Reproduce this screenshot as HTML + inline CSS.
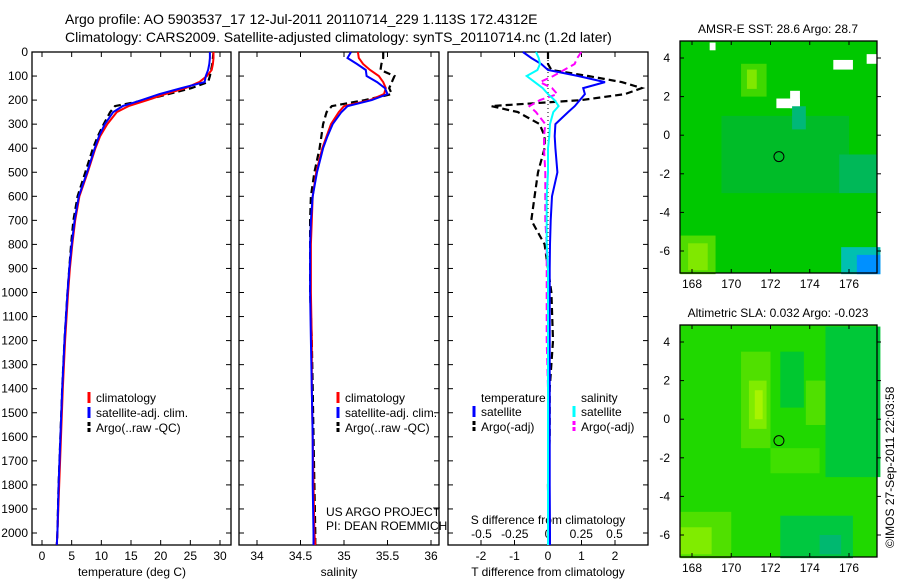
<!DOCTYPE html>
<html><head><meta charset="utf-8">
<style>
html,body{margin:0;padding:0;background:#fff;}
svg{display:block;font-family:"Liberation Sans",sans-serif;}
text{font-size:12px;fill:#000;}
</style></head>
<body>
<svg id="fig" width="900" height="580" viewBox="0 0 900 580" xmlns="http://www.w3.org/2000/svg">
<text x="65" y="24" style="font-size:14px">Argo profile: AO 5903537_17 12-Jul-2011 20110714_229 1.113S 172.4312E</text>
<text x="65" y="42" style="font-size:14px">Climatology: CARS2009. Satellite-adjusted climatology: synTS_20110714.nc (1.2d later)</text>
<g id="g"></g>
<text transform="translate(894,548) rotate(-90)" style="font-size:12px">©IMOS 27-Sep-2011 22:03:58</text>
</svg>
<script>
// ---- data ----
const depths = [0,25,50,75,100,125,150,175,200,225,250,300,350,400,500,600,700,800,900,1000,1200,1400,1600,1800,2000,2050];
const tempClim = [28.9,28.9,28.8,28.6,27.8,26.5,24.2,20.8,17.8,14.6,12.6,11.0,9.8,9.0,7.7,6.3,5.6,5.1,4.7,4.4,3.9,3.5,3.2,2.9,2.6,2.5];
const tempSat  = [28.3,28.3,28.2,28.0,27.6,27.4,23.5,19.8,16.8,13.6,12.0,10.6,9.6,8.9,7.6,6.2,5.5,5.0,4.6,4.3,3.8,3.4,3.1,2.8,2.6,2.5];
const tempArgo = [28.9,28.8,28.7,28.5,28.3,28.0,25.2,21.3,17.4,12.3,11.5,10.4,9.4,8.6,7.3,6.0,5.3,4.9,4.6,4.3,3.8,3.4,3.1,2.8,2.6,2.5];
const salClim = [35.16,35.17,35.22,35.30,35.40,35.45,35.48,35.46,35.30,35.00,34.94,34.85,34.80,34.75,34.68,34.64,34.63,34.62,34.62,34.62,34.63,34.63,34.64,34.65,34.66,34.67];
const salSat  = [35.08,35.04,35.15,35.25,35.26,35.38,35.47,35.50,35.32,35.04,34.97,34.87,34.81,34.76,34.69,34.64,34.62,34.61,34.61,34.61,34.62,34.63,34.64,34.64,34.65,34.65];
const salArgo = [35.45,35.45,35.43,35.42,35.58,35.55,35.52,35.55,35.24,34.86,34.80,34.76,34.74,34.72,34.66,34.62,34.61,34.61,34.61,34.61,34.63,34.64,34.65,34.66,34.67,34.67];
const dTsat  = [-0.75,-0.5,-0.2,0.0,0.9,1.7,1.05,1.1,0.95,0.8,0.6,0.22,0.2,0.22,0.28,0.12,0.08,0.06,0.05,0.05,0.05,0.05,0.05,0.05,0.06,0.06];
const dTargo = [0.0,0.0,0.0,0.1,1.2,2.2,2.8,2.3,1.0,-1.7,-0.9,-0.25,-0.1,-0.1,-0.3,-0.4,-0.5,-0.1,0.0,0.1,0.15,0.05,0.05,0.0,0.02,0.0];
const dSsat  = [-0.09,-0.07,-0.06,-0.08,-0.16,-0.1,-0.04,0.0,0.05,0.08,0.04,0.015,0.01,0.0,0.0,-0.01,-0.01,-0.01,0.0,0.0,0.0,0.0,0.0,0.0,0.0,0.0];
const dSargo = [0.25,0.22,0.2,0.12,0.04,-0.06,0.03,0.07,-0.06,-0.14,-0.09,-0.02,-0.03,-0.03,-0.02,-0.02,-0.02,-0.01,-0.01,-0.01,-0.01,0.0,0.0,0.0,0.0,0.0];
const depthTicks = [0,100,200,300,400,500,600,700,800,900,1000,1100,1200,1300,1400,1500,1600,1700,1800,1900,2000];
const tempTicks = [0,5,10,15,20,25,30];
const salTicks = [34,34.5,35,35.5,36];
const dTTicks = [-2,-1,0,1,2];
const dSTicks = [-0.5,-0.25,0,0.25,0.5];
const latTicks = [4,2,0,-2,-4,-6];
const lonTicks = [168,170,172,174,176];

// ---- helpers ----
const NS="http://www.w3.org/2000/svg";
const G=document.getElementById('g');
function mk(tag,attrs,parent){const e=document.createElementNS(NS,tag);for(const k in attrs)e.setAttribute(k,attrs[k]);(parent||G).appendChild(e);return e;}
const TOP=52,BOT=545;
const yD=d=>TOP+d*0.2405;
function lin(d0,d1,r0,r1){return v=>r0+(v-d0)*(r1-r0)/(d1-d0);}

function panel(x0,x1,name){
  const r=mk('rect',{x:x0,y:TOP,width:x1-x0,height:BOT-TOP,fill:'none',stroke:'#000','stroke-width':1.3});
  
  
  depthTicks.forEach(d=>{
    const y=yD(d);
    mk('line',{x1:x0,y1:y,x2:x0+5,y2:y,stroke:'#000'});
    mk('line',{x1:x1,y1:y,x2:x1-5,y2:y,stroke:'#000'});
  });
}
function xticks(x0,x1,ticks,sx,labY,name){
  ticks.forEach(t=>{
    const x=sx(t);
    mk('line',{x1:x,y1:BOT,x2:x,y2:BOT-5,stroke:'#000'});
    mk('line',{x1:x,y1:TOP,x2:x,y2:TOP+5,stroke:'#000'});
    const tx=mk('text',{x:x,y:labY,'text-anchor':'middle'});
    tx.textContent=String(t);
    
    
  });
}
function line(vals,sx,color,dash,name,w){
  const pts=vals.map((v,i)=>sx(v).toFixed(1)+','+yD(depths[i]).toFixed(1)).join(' ');
  const p=mk('polyline',{points:pts,fill:'none',stroke:color,'stroke-width':w||2,'stroke-dasharray':dash||'none'});
  
  
}
function legend(x,y,items,prefix){
  items.forEach((it,i)=>{
    mk('line',{x1:x,y1:y+i*15-10,x2:x,y2:y+i*15+1,stroke:it[1],'stroke-width':3,'stroke-dasharray':it[2]||'none'});
    const t=mk('text',{x:x+7,y:y+i*15});
    t.textContent=it[0];
    
    
  });
}
function label(x,y,s,name,anchor){const t=mk('text',{x:x,y:y,'text-anchor':anchor||'start'});t.textContent=s;}

// depth labels
depthTicks.forEach(d=>{const t=mk('text',{x:28,y:yD(d)+4,'text-anchor':'end'});t.textContent=d;});

// panel 1 temperature
const sT=lin(0,30,42,220);
panel(32,231,'temperature-panel');
xticks(32,231,tempTicks,sT,560,'temperature-tick-label');
label(132,576,'temperature (deg C)','temperature-axis-title','middle');
line(tempArgo,sT,'#000','7,4','temp-argo-line',2.2);
line(tempClim,sT,'#f00',null,'temp-climatology-line');
line(tempSat,sT,'#00f',null,'temp-satellite-line');
legend(89,402,[['climatology','#f00'],['satellite-adj. clim.','#00f'],['Argo(..raw -QC)','#000','4,2']],'temp');

// panel 2 salinity
const sS=lin(34,36,257,431);
panel(239,439,'salinity-panel');
xticks(239,439,salTicks,sS,560,'salinity-tick-label');
label(339,576,'salinity','salinity-axis-title','middle');
line(salArgo,sS,'#000','7,4','sal-argo-line',2.2);
line(salClim,sS,'#f00',null,'sal-climatology-line');
line(salSat,sS,'#00f',null,'sal-satellite-line');
legend(338,402,[['climatology','#f00'],['satellite-adj. clim.','#00f'],['Argo(..raw -QC)','#000','4,2']],'sal');
label(326,516,'US ARGO PROJECT','project-label');
label(326,530,'PI: DEAN ROEMMICH','pi-label');

// panel 3 differences
const sDT=lin(0,1,548,581.5);
const sDS=lin(0,1,548,681);
panel(448,648,'difference-panel');
xticks(448,648,dTTicks,sDT,560,'t-diff-tick-label');
dSTicks.forEach(t=>{const tx=mk('text',{x:sDS(t),y:538,'text-anchor':'middle'});tx.textContent=String(t);});
label(548,524,'S difference from climatology','s-diff-axis-title','middle');
label(548,576,'T difference from climatology','t-diff-axis-title','middle');
mk('line',{x1:548,y1:TOP,x2:548,y2:BOT,stroke:'#000','stroke-dasharray':'1,3'});
line(dTargo,sDT,'#000','7,4','t-diff-argo-line',2.2);
line(dSargo,sDS,'#f0f','7,4','s-diff-argo-line');
line(dTsat,sDT,'#00f',null,'t-diff-satellite-line');
line(dSsat,sDS,'#0ff',null,'s-diff-satellite-line');
label(481,402,'temperature','legend-temperature-heading');
label(581,402,'salinity','legend-salinity-heading');
legend(474,416,[['satellite','#00f'],['Argo(-adj)','#000','4,2']],'diff-temp');
legend(574,416,[['satellite','#0ff'],['Argo(-adj)','#f0f','4,2']],'diff-sal');

// maps
function map(y0,y1,title,patches,name){
  const x0=680,x1=877;
  const sLon=lin(168,176,692,849);
  const sLat=lin(4,-6,y0+17,y0+17+193);
  mk('rect',{x:x0,y:y0,width:x1-x0,height:y1-y0,fill:patches.base});
  patches.rects.forEach(r=>mk('rect',{x:sLon(r[0]),y:sLat(r[1]),width:sLon(r[2])-sLon(r[0]),height:sLat(r[3])-sLat(r[1]),fill:r[4]}));
  const c=mk('circle',{cx:sLon(172.43),cy:sLat(-1.11),r:5,fill:'none',stroke:'#000'});
  
  
  const b=mk('rect',{x:x0,y:y0,width:x1-x0,height:y1-y0,fill:'none',stroke:'#000','stroke-width':1.3});
  
  
  latTicks.forEach(l=>{const y=sLat(l);mk('line',{x1:x0,y1:y,x2:x0+4,y2:y,stroke:'#000'});mk('line',{x1:x1,y1:y,x2:x1+4,y2:y,stroke:'#000'});label(670,y+4,String(l),'latitude-tick-label','end');});
  lonTicks.forEach(l=>{const x=sLon(l);mk('line',{x1:x,y1:y0,x2:x,y2:y0+4,stroke:'#000'});mk('line',{x1:x,y1:y1,x2:x,y2:y1-4,stroke:'#000'});label(x,y1+15,String(l),'longitude-tick-label','middle');});
  label(778,y0-8,title,'map-title','middle');
}
map(41,273,'AMSR-E SST: 28.6 Argo: 28.7',{base:'#00c800',rects:[
 [169.5,1,176,-3,'#00bc28'],[170.5,3.7,171.8,2,'#40d800'],[170.8,3.4,171.3,2.4,'#80e800'],
 [167.4,-5.2,169.2,-7.2,'#50dc00'],[167.8,-5.6,168.8,-7,'#80e800'],[175.5,-1,177.4,-3,'#00b858'],
 [175.6,-5.8,177.6,-7.2,'#00c0b0'],[176.4,-6.2,177.6,-7.2,'#0090ff'],[172.3,1.9,173.5,1.4,'#fff'],[173,2.3,173.5,1.4,'#fff'],
 [175.2,3.9,176.2,3.4,'#fff'],[176.9,4.2,177.4,3.7,'#fff'],[168.9,4.8,169.2,4.4,'#fff'],[173.1,1.5,173.8,0.3,'#00b878']]},'sst-map');
map(325,557,'Altimetric SLA: 0.032 Argo: -0.023',{base:'#20d800',rects:[
 [174.8,4.8,177.6,-3,'#00c838'],[172.5,3.5,173.7,0.6,'#00c830'],[170.5,3.5,172,-1.5,'#50e000'],[170.9,2,171.8,-0.5,'#80ec00'],
 [171.2,1.5,171.6,0,'#a8f400'],[173.8,2,174.8,-0.3,'#50e000'],[172,-1.5,174.5,-2.8,'#40e000'],
 [167.4,-4.8,170,-7.2,'#50e000'],[167.4,-5.6,169,-7,'#80ec00'],[172.5,-5,176.2,-7.2,'#00c840'],[174.5,-6,175.6,-7,'#00b870']]},'sla-map');
</script>
</body></html>
